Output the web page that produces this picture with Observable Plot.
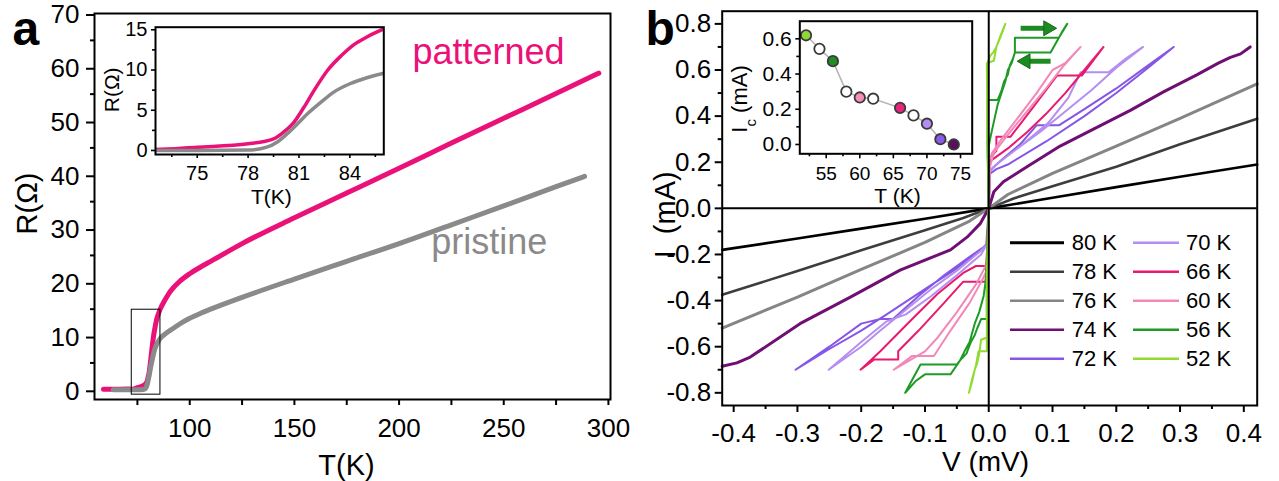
<!DOCTYPE html>
<html><head><meta charset="utf-8">
<script src="https://cdn.jsdelivr.net/npm/d3@7"></script>
<script src="https://cdn.jsdelivr.net/npm/@observablehq/plot@0.6"></script>
<style>
html,body{margin:0;padding:0;background:#fff;}
#wrap{position:relative;width:1279px;height:481px;overflow:hidden;background:#fff;}
</style></head><body><div id="wrap"></div>
<script>
// ---------------- Panel a data: R(T) ----------------
const patternedT = [58.8,63,70,72.5,75,78,79.5,80.1,80.7,81.3,81.9,82.7,83.5,84.2,85,86,88,90,92,95,100,105,110,125,150,175,200,225,250,275,295.4];
const patternedR = [0.1,0.1,0.15,0.12,0.41,0.83,1.45,2.3,3.5,5.4,7.5,10.0,11.8,13.1,14.1,15.1,16.6,17.9,18.9,20.1,21.6,22.8,23.9,27.2,32.0,36.6,41.2,45.9,50.5,55.1,58.9];
const pristineT = [63.5,70,75,78,79.1,79.7,80.3,80.9,81.5,82.3,83.05,84,85,86,88,90,92,95,100,105,110,125,150,175,200,225,250,275,288.6];
const pristineR = [0,0,0,0.05,0.41,1.03,2.07,3.3,4.56,6.0,7.25,8.29,9.04,9.6,10.3,10.9,11.4,12.2,13.3,14.2,15.0,17.2,20.6,23.9,27.2,30.7,34.2,37.8,39.7];
const zoomBox = [{T1: 72.3, T2: 86.0, R1: -0.9, R2: 14.9}];
const seriesLabels = [{name: "patterned", T: 206.4, R: 62.8}, {name: "pristine", T: 215.4, R: 27.4}];
const aXTicks = [100,150,200,250,300];
const aXMinor = [75,125,175,225,275];
const aYTicks = [0,10,20,30,40,50,60,70];
const aYMinor = [5,15,25,35,45,55,65];
const aiXTicks = [75,78,81,84];
const aiXMinor = [73.5,76.5,79.5,82.5,85.5];
const aiYTicks = [0,5,10,15];
const aiYMinor = [2.5,7.5,12.5];

// ---------------- Panel b data: I(V) ----------------
const ivTemps = [80,78,76,74,72,70,66,60,56,52];
const iv80 = [[-0.418,-0.180],[-0.3,-0.131],[-0.2,-0.088],[-0.1,-0.045],[0,0],[0.1,0.046],[0.2,0.092],[0.3,0.137],[0.421,0.19]];
const iv78 = [[-0.418,-0.375],[-0.3,-0.272],[-0.2,-0.182],[-0.1,-0.095],[-0.04,-0.042],[0,0],[0.04,0.044],[0.1,0.096],[0.2,0.18],[0.3,0.278],[0.421,0.389]];
const iv76 = [[-0.418,-0.519],[-0.3,-0.385],[-0.2,-0.265],[-0.1,-0.148],[-0.03,-0.055],[0,0],[0.03,0.06],[0.1,0.152],[0.2,0.27],[0.3,0.39],[0.421,0.54]];
const iv74 = [[-0.418,-0.685],[-0.395,-0.67],[-0.374,-0.645],[-0.296,-0.5],[-0.217,-0.385],[-0.139,-0.268],[-0.06,-0.18],[-0.034,-0.125],[-0.013,-0.065],[0,0],[0.008,0.072],[0.023,0.115],[0.06,0.18],[0.112,0.27],[0.165,0.345],[0.222,0.425],[0.274,0.505],[0.327,0.58],[0.36,0.63],[0.379,0.655],[0.395,0.67],[0.41,0.70]];
const iv72 = [[0,0],[0.002,0.15],[0.012,0.17],[0.03,0.19],[0.09,0.29],[0.15,0.40],[0.2,0.50],[0.25,0.61],[0.29,0.70],
  [0.25,0.62],[0.2,0.52],[0.15,0.43],[0.11,0.36],[0.075,0.36],[0.05,0.28],[0.02,0.21],[0.004,0.17],[0,0.15],[0,0],
  [-0.002,-0.15],[-0.012,-0.18],[-0.05,-0.26],[-0.1,-0.35],[-0.16,-0.46],[-0.2,-0.53],[-0.25,-0.61],[-0.303,-0.70],
  [-0.25,-0.6],[-0.2,-0.5],[-0.17,-0.48],[-0.15,-0.48],[-0.11,-0.38],[-0.07,-0.29],[-0.03,-0.21],[-0.004,-0.16],[0,0]];
const iv70 = [[0,0],[0.002,0.16],[0.012,0.19],[0.05,0.27],[0.093,0.37],[0.125,0.48],[0.144,0.59],[0.188,0.59],[0.215,0.65],[0.242,0.70],
  [0.2,0.61],[0.16,0.51],[0.12,0.42],[0.08,0.33],[0.04,0.25],[0.012,0.19],[0,0.16],[0,0],
  [-0.002,-0.15],[-0.012,-0.2],[-0.05,-0.29],[-0.09,-0.38],[-0.13,-0.46],[-0.16,-0.49],[-0.2,-0.58],[-0.251,-0.70],
  [-0.2,-0.6],[-0.17,-0.53],[-0.13,-0.44],[-0.09,-0.35],[-0.05,-0.27],[-0.015,-0.19],[0,-0.15],[0,0]];
const iv66 = [[0,0],[0.002,0.22],[0.012,0.25],[0.012,0.31],[0.034,0.31],[0.07,0.44],[0.107,0.576],[0.146,0.576],[0.18,0.70],
  [0.15,0.6],[0.12,0.5],[0.09,0.41],[0.06,0.33],[0.03,0.26],[0.01,0.22],[0,0.2],[0,0],
  [-0.003,-0.2],[-0.005,-0.318],[-0.04,-0.318],[-0.07,-0.41],[-0.11,-0.53],[-0.142,-0.62],[-0.142,-0.656],[-0.18,-0.656],[-0.201,-0.70],
  [-0.17,-0.62],[-0.12,-0.48],[-0.08,-0.37],[-0.04,-0.28],[-0.02,-0.25],[-0.005,-0.25],[0,-0.2],[0,0]];
const iv60 = [[0,0],[0.002,0.18],[0.008,0.24],[0.03,0.32],[0.06,0.42],[0.09,0.52],[0.115,0.61],[0.144,0.70],
  [0.12,0.63],[0.1,0.6],[0.075,0.5],[0.045,0.39],[0.02,0.3],[0.005,0.24],[0,0.2],[0,0],
  [-0.003,-0.24],[-0.02,-0.33],[-0.05,-0.45],[-0.08,-0.56],[-0.1,-0.62],[-0.149,-0.70],
  [-0.12,-0.64],[-0.086,-0.64],[-0.06,-0.53],[-0.03,-0.41],[-0.01,-0.31],[0,-0.25],[0,0]];
const iv56 = [[0,0],[-0.002,0.27],[-0.002,0.47],[0.014,0.47],[0.02,0.51],[0.024,0.55],[0.03,0.58],[0.033,0.62],[0.038,0.65],[0.041,0.676],[0.041,0.74],[0.11,0.74],[0.116,0.77],[0.123,0.80],
  [0.11,0.74],[0.097,0.676],[0.041,0.676],[0.036,0.63],[0.03,0.6],[0.026,0.55],[0.02,0.5],[0.014,0.45],[0.01,0.4],[0.006,0.35],[0.002,0.3],[0,0.27],[0,0],
  [-0.003,-0.3],[-0.003,-0.48],[-0.012,-0.48],[-0.018,-0.52],[-0.022,-0.55],[-0.028,-0.58],[-0.035,-0.63],[-0.042,-0.65],[-0.05,-0.677],[-0.107,-0.677],[-0.131,-0.80],
  [-0.115,-0.75],[-0.1,-0.72],[-0.06,-0.72],[-0.045,-0.66],[-0.038,-0.62],[-0.03,-0.58],[-0.022,-0.5],[-0.015,-0.45],[-0.008,-0.38],[-0.004,-0.3],[0,0]];
const iv52 = [[0,0],[-0.002,0.3],[-0.003,0.63],[0.008,0.64],[0.01,0.67],[0.012,0.70],[0.016,0.73],[0.02,0.76],[0.026,0.80],
  [0.022,0.77],[0.018,0.74],[0.012,0.7],[0.008,0.68],[0.002,0.66],[-0.002,0.63],[-0.002,0.3],[0,0],
  [-0.002,-0.3],[-0.003,-0.56],[-0.012,-0.57],[-0.015,-0.63],[-0.018,-0.67],[-0.022,-0.7],[-0.026,-0.75],[-0.031,-0.80],
  [-0.026,-0.74],[-0.02,-0.68],[-0.016,-0.62],[-0.003,-0.62],[-0.003,-0.3],[0,0]];
const ivCurves = {80: iv80, 78: iv78, 76: iv76, 74: iv74, 72: iv72, 70: iv70, 66: iv66, 60: iv60, 56: iv56, 52: iv52};
const sweepArrows = [{V1: 0.05, V2: 0.093, I: 0.781}, {V1: 0.097, V2: 0.058, I: 0.638}];
const bXTicks = [-0.4,-0.3,-0.2,-0.1,0,0.1,0.2,0.3,0.4];
const bXMinor = [-0.35,-0.25,-0.15,-0.05,0.05,0.15,0.25,0.35];
const bYTicks = [-0.8,-0.6,-0.4,-0.2,0,0.2,0.4,0.6,0.8];
const bYMinor = [-0.7,-0.5,-0.3,-0.1,0.1,0.3,0.5,0.7];

// ---------------- Inset b data: Ic(T) ----------------
const icT = [52,54,56,58,60,62,66,68,70,72,74];
const icI = [0.62,0.543,0.473,0.30,0.267,0.26,0.208,0.165,0.118,0.03,0.0];
const biXTicks = [55,60,65,70,75];
const biXMinor = [52.5,57.5,62.5,67.5,72.5];
const biYTicks = [0,0.2,0.4,0.6];
const biYMinor = [0.1,0.3,0.5];

// ---------------- styles ----------------
const FONT = '"Liberation Sans", Arial, Helvetica, sans-serif';
const PINK = "#ea1279", GRAY = "#8a8a8a", ARROW = "#1e8a22";
const seriesColor = {patterned: PINK, pristine: GRAY};
const ivStyle = {80: {c: "#000000", w: 2.6}, 78: {c: "#3d3d3d", w: 2.6}, 76: {c: "#858585", w: 3}, 74: {c: "#6f0f73", w: 3},
  72: {c: "#8656e6", w: 2}, 70: {c: "#b48ef0", w: 2}, 66: {c: "#e8196f", w: 2}, 60: {c: "#f288b8", w: 2},
  56: {c: "#1f9a26", w: 2}, 52: {c: "#8fdc2e", w: 2}};
const icFill = {52: "#8fd63a", 54: "#ffffff", 56: "#1f8f24", 58: "#ffffff", 60: "#f48fb8", 62: "#ffffff",
  66: "#e8247c", 68: "#ffffff", 70: "#b28ef2", 72: "#8a5be6", 74: "#5a0f5e"};
const baseStyle = {background: "transparent", fontFamily: FONT, overflow: "visible", color: "#000"};

const patterned = patternedT.map((T, i) => ({T, R: patternedR[i]}));
const pristine = pristineT.map((T, i) => ({T, R: pristineR[i]}));
const icData = icT.map((T, i) => ({T, I: icI[i]}));

const wrap = document.getElementById("wrap");
function place(el, left, top) {
  el.style.position = "absolute"; el.style.left = left + "px"; el.style.top = top + "px";
  el.style.background = "transparent"; el.style.maxWidth = "none";
  wrap.appendChild(el);
}
const blank = () => "";

// ---------------- Panel a ----------------
const plotA = Plot.plot({
  width: 640, height: 481, marginLeft: 94, marginRight: 30, marginTop: 13, marginBottom: 82,
  style: baseStyle,
  x: {domain: [54.5, 301]}, y: {domain: [-1.8, 70]},
  marks: [
    Plot.line(patterned, {x: "T", y: "R", stroke: PINK, strokeWidth: 5, curve: "monotone-x"}),
    Plot.line(pristine, {x: "T", y: "R", stroke: GRAY, strokeWidth: 5, curve: "monotone-x"}),
    Plot.rect(zoomBox, {x1: "T1", x2: "T2", y1: "R1", y2: "R2", fill: "none", stroke: "#000", strokeWidth: 1}),
    Plot.frame({strokeWidth: 2}),
    Plot.axisX({ticks: aXTicks, tickSize: 6, tickPadding: 13, fontSize: 26, strokeWidth: 2, label: null, tickFormat: d => String(d)}),
    Plot.axisX({ticks: aXMinor, tickSize: 6, strokeWidth: 2, label: null, tickFormat: blank}),
    Plot.axisY({ticks: aYTicks, tickSize: 8, tickPadding: 7, fontSize: 26, strokeWidth: 2, label: null, dy: 1.5, tickFormat: d => String(d)}),
    Plot.axisY({ticks: aYMinor, tickSize: 4, strokeWidth: 2, label: null, tickFormat: blank}),
    Plot.text(["T(K)"], {text: d => d, frameAnchor: "bottom", textAnchor: "middle", lineAnchor: "middle", dx: -6, dy: 66.7, fontSize: 29}),
    Plot.text(["R(Ω)"], {text: d => d, frameAnchor: "left", textAnchor: "middle", lineAnchor: "middle", rotate: -90, dx: -66.5, dy: -3, fontSize: 29}),
    Plot.text(["a"], {text: d => d, frameAnchor: "top-left", textAnchor: "start", lineAnchor: "middle", dx: -82, dy: 16.6, fontSize: 48, fontWeight: "bold"}),
    ...seriesLabels.map(s => Plot.text([s], {x: "T", y: "R", text: "name", fill: seriesColor[s.name], fontSize: 36, textAnchor: "start", lineAnchor: "middle"}))
  ]
});
place(plotA, 0, 0);

// ---------------- Inset a ----------------
const insetA = Plot.plot({
  width: 305, height: 197, marginLeft: 60, marginRight: 16.7, marginTop: 8.7, marginBottom: 61,
  style: baseStyle,
  x: {domain: [72.54, 86.0]}, y: {domain: [-0.5, 15.32]},
  marks: [
    Plot.line(patterned, {x: "T", y: "R", stroke: PINK, strokeWidth: 3.5, clip: true, curve: "monotone-x"}),
    Plot.line(pristine, {x: "T", y: "R", stroke: GRAY, strokeWidth: 3.5, clip: true, curve: "monotone-x"}),
    Plot.frame({strokeWidth: 2}),
    Plot.axisX({ticks: aiXTicks, tickSize: 4, tickPadding: 7, fontSize: 20, strokeWidth: 1.6, label: null, tickFormat: d => String(d)}),
    Plot.axisX({ticks: aiXMinor, tickSize: 3, strokeWidth: 1.6, label: null, tickFormat: blank}),
    Plot.axisY({ticks: aiYTicks, tickSize: 4, tickPadding: 4, fontSize: 20, strokeWidth: 1.6, label: null, tickFormat: d => String(d)}),
    Plot.axisY({ticks: aiYMinor, tickSize: 3, strokeWidth: 1.6, label: null, tickFormat: blank}),
    Plot.text(["T(K)"], {text: d => d, frameAnchor: "bottom", textAnchor: "middle", lineAnchor: "middle", dx: 1.8, dy: 43, fontSize: 21}),
    Plot.text(["R(Ω)"], {text: d => d, frameAnchor: "left", textAnchor: "middle", lineAnchor: "middle", rotate: -90, dx: -43, dy: -1, fontSize: 21})
  ]
});
place(insetA, 95, 18);

// ---------------- Panel b ----------------
const ivMarks = ivTemps.map(t => Plot.line(ivCurves[t], {x: d => d[0], y: d => d[1], stroke: ivStyle[t].c, strokeWidth: ivStyle[t].w, strokeLinejoin: "round"}));
const plotB = Plot.plot({
  width: 639, height: 481, marginLeft: 81.7, marginRight: 22.3, marginTop: 10.7, marginBottom: 76,
  style: baseStyle,
  x: {domain: [-0.418, 0.421]}, y: {domain: [-0.855, 0.855]},
  marks: [
    ...ivMarks,
    Plot.ruleX([0], {strokeWidth: 2}),
    Plot.ruleY([0], {strokeWidth: 2}),
    Plot.link(sweepArrows, {x1: "V1", y1: "I", x2: "V2", y2: "I", stroke: ARROW, strokeWidth: 5}),
    Plot.dot(sweepArrows, {x: "V2", y: "I", symbol: "triangle", rotate: d => (d.V2 > d.V1 ? 90 : -90), r: 5.5, fill: ARROW, stroke: "#146a18", strokeWidth: 1}),
    Plot.frame({strokeWidth: 2}),
    Plot.axisX({ticks: bXTicks, tickSize: 7, tickPadding: 11, fontSize: 26, strokeWidth: 2, label: null, tickFormat: d => d.toFixed(1)}),
    Plot.axisX({ticks: bXMinor, tickSize: 4, strokeWidth: 2, label: null, tickFormat: blank}),
    Plot.axisY({ticks: bYTicks, tickSize: 7, tickPadding: 4, fontSize: 26, strokeWidth: 2, label: null, tickFormat: d => d.toFixed(1)}),
    Plot.axisY({ticks: bYMinor, tickSize: 4, strokeWidth: 2, label: null, tickFormat: blank}),
    Plot.text(["V (mV)"], {text: d => d, frameAnchor: "bottom", textAnchor: "middle", lineAnchor: "middle", dx: -4.2, dy: 57, fontSize: 28}),
    Plot.text(["I  (mA)"], {text: d => d, frameAnchor: "left", textAnchor: "middle", lineAnchor: "middle", rotate: -90, dx: -56.7, dy: 6.5, fontSize: 29}),
    Plot.text(["b"], {text: d => d, frameAnchor: "top-left", textAnchor: "start", lineAnchor: "middle", dx: -76.7, dy: 18.9, fontSize: 48, fontWeight: "bold"})
  ]
});
// legend (two columns)
const LEG = {colLine: [[370, 424], [493, 539]], colText: [431.7, 546], y0: 242.7, dy: 29};
const lg = d3.select(plotB).append("g").attr("font-family", FONT).attr("font-size", 22).attr("text-anchor", "start");
ivTemps.forEach((t, k) => {
  const col = k < 5 ? 0 : 1, row = k % 5, y = LEG.y0 + row * LEG.dy;
  lg.append("line").attr("x1", LEG.colLine[col][0]).attr("x2", LEG.colLine[col][1]).attr("y1", y).attr("y2", y)
    .attr("stroke", ivStyle[t].c).attr("stroke-width", t === 80 ? 3 : 2.5);
  lg.append("text").attr("x", LEG.colText[col]).attr("y", y).attr("dy", "0.35em").attr("fill", "#000").text(`${t} K`);
});
place(plotB, 640, 0);

// ---------------- Inset b ----------------
const insetB = Plot.plot({
  width: 270, height: 203, marginLeft: 79.3, marginRight: 18.3, marginTop: 8.7, marginBottom: 61.7,
  style: baseStyle,
  color: {type: "identity"},
  x: {domain: [51.07, 76.74]}, y: {domain: [-0.053, 0.70]},
  marks: [
    Plot.frame({fill: "#fff"}),
    Plot.line(icData, {x: "T", y: "I", stroke: "#b3b3b3", strokeWidth: 1.5}),
    Plot.dot(icData, {x: "T", y: "I", r: 5.2, fill: d => icFill[d.T], stroke: "#3a3a3a", strokeWidth: 1.8}),
    Plot.frame({strokeWidth: 2}),
    Plot.axisX({ticks: biXTicks, tickSize: 5, tickPadding: 8, fontSize: 19, strokeWidth: 1.6, label: null, tickFormat: d => String(d)}),
    Plot.axisX({ticks: biXMinor, tickSize: 3, strokeWidth: 1.6, label: null, tickFormat: blank}),
    Plot.axisY({ticks: biYTicks, tickSize: 4, tickPadding: 4, fontSize: 21, strokeWidth: 1.6, label: null, tickFormat: d => d.toFixed(1)}),
    Plot.axisY({ticks: biYMinor, tickSize: 3, strokeWidth: 1.6, label: null, tickFormat: blank}),
    Plot.text(["T (K)"], {text: d => d, frameAnchor: "bottom", textAnchor: "middle", lineAnchor: "middle", dx: 11.5, dy: 42, fontSize: 21})
  ]
});
const icLabel = d3.select(insetB).append("text")
  .attr("transform", "translate(20,87) rotate(-90)").attr("text-anchor", "middle").attr("dy", "0.32em")
  .attr("font-family", FONT).attr("font-size", 22).attr("fill", "#000");
icLabel.append("tspan").text("I");
icLabel.append("tspan").attr("font-size", 15).attr("baseline-shift", "sub").text("c");
icLabel.append("tspan").attr("baseline-shift", "0").text(" (mA)");
place(insetB, 720, 12);
</script></body></html>
